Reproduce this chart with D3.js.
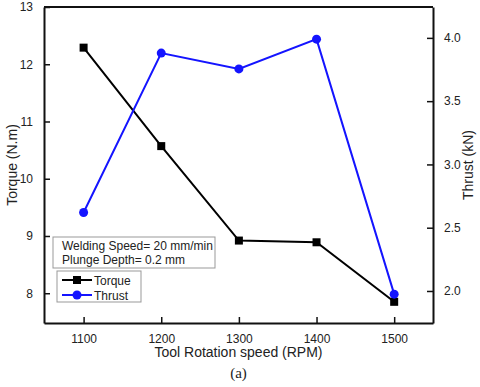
<!DOCTYPE html>
<html>
<head>
<meta charset="utf-8">
<script src="https://cdn.jsdelivr.net/npm/d3@7"></script>
<style>
  body { margin: 0; background: #fff; }
  text { font-family: "Liberation Sans", Arial, sans-serif; fill: #222; }
</style>
</head>
<body>
<div id="chart"></div>
<script>
var svgWidth = 480;
var svgHeight = 387;

var margin = { top: 7, right: 47, bottom: 64, left: 44 };
var width = svgWidth - margin.left - margin.right;
var height = svgHeight - margin.top - margin.bottom;

// data
var rpm = [1100, 1200, 1300, 1400, 1500];
var torque = [12.29, 10.57, 8.92, 8.89, 7.85];
var thrust = [2.62, 3.88, 3.755, 3.99, 1.975];

var torqueTicks = [8, 9, 10, 11, 12, 13];
var thrustTicks = [2.0, 2.5, 3.0, 3.5, 4.0];

var svg = d3.select("#chart")
    .append("svg")
    .attr("width", svgWidth)
    .attr("height", svgHeight);

var chartGroup = svg.append("g")
    .attr("transform", `translate(${margin.left}, ${margin.top})`);

var xScale = d3.scaleLinear().domain([1049, 1550]).range([0, width]);
var yLeft = d3.scaleLinear().domain([7.48, 13]).range([height, 0]);
var yRight = d3.scaleLinear().domain([1.747, 4.244]).range([height, 0]);

// axes, ticks pointing inward
var bottomAxis = d3.axisBottom(xScale).tickValues(rpm).tickSizeInner(-6).tickSizeOuter(0).tickPadding(11).tickFormat(d3.format("d"));
var leftAxis = d3.axisLeft(yLeft).tickValues(torqueTicks).tickSizeInner(-6).tickSizeOuter(0).tickPadding(11).tickFormat(d3.format("d"));
var rightAxis = d3.axisRight(yRight).tickValues(thrustTicks).tickSizeInner(-6).tickSizeOuter(0).tickPadding(11).tickFormat(d3.format(".1f"));

chartGroup.append("g")
    .attr("transform", `translate(0, ${height})`)
    .call(bottomAxis);
chartGroup.append("g").call(leftAxis);
chartGroup.append("g")
    .attr("transform", `translate(${width}, 0)`)
    .call(rightAxis);

chartGroup.selectAll(".domain").attr("stroke", "#111").attr("stroke-width", 2);
chartGroup.selectAll(".tick line").attr("stroke", "#111").attr("stroke-width", 1.5);
chartGroup.selectAll(".tick text").style("font-size", "12px").attr("fill", "#222");

// top frame line
chartGroup.append("line")
    .attr("x1", 0).attr("x2", width)
    .attr("y1", 0).attr("y2", 0)
    .attr("stroke", "#111").attr("stroke-width", 2);

// torque series
var torqueLine = d3.line()
    .x((d, i) => xScale(rpm[i]))
    .y(d => yLeft(d));

chartGroup.append("path")
    .datum(torque)
    .attr("d", torqueLine)
    .attr("fill", "none")
    .attr("stroke", "#000")
    .attr("stroke-width", 2);

chartGroup.selectAll(".torqueMark")
    .data(torque)
    .enter()
    .append("rect")
        .attr("class", "torqueMark")
        .attr("x", (d, i) => xScale(rpm[i]) - 4)
        .attr("y", d => yLeft(d) - 4)
        .attr("width", 8)
        .attr("height", 8)
        .attr("fill", "#000");

// thrust series
var thrustLine = d3.line()
    .x((d, i) => xScale(rpm[i]))
    .y(d => yRight(d));

chartGroup.append("path")
    .datum(thrust)
    .attr("d", thrustLine)
    .attr("fill", "none")
    .attr("stroke", "#1414ff")
    .attr("stroke-width", 2);

chartGroup.selectAll(".thrustMark")
    .data(thrust)
    .enter()
    .append("circle")
        .attr("class", "thrustMark")
        .attr("cx", (d, i) => xScale(rpm[i]))
        .attr("cy", d => yRight(d))
        .attr("r", 4.5)
        .attr("fill", "#1414ff");

// condition text box
var infoBox = chartGroup.append("g").attr("transform", "translate(9, 230)");
infoBox.append("rect")
    .attr("width", 162).attr("height", 31)
    .attr("fill", "#fff").attr("stroke", "#999").attr("stroke-width", 1);
infoBox.append("text").attr("x", 9).attr("y", 13).style("font-size", "12px").text("Welding Speed= 20 mm/min");
infoBox.append("text").attr("x", 9).attr("y", 27).style("font-size", "12px").text("Plunge Depth= 0.2 mm");

// legend
var legend = chartGroup.append("g").attr("transform", "translate(13, 264)");
legend.append("rect")
    .attr("width", 84).attr("height", 31)
    .attr("fill", "#fff").attr("stroke", "#999").attr("stroke-width", 1);

var legendItems = [
    { name: "Torque", color: "#000", shape: "square" },
    { name: "Thrust", color: "#1414ff", shape: "circle" }
];

legendItems.forEach((item, i) => {
    var row = legend.append("g").attr("transform", `translate(0, ${9 + i * 15})`);
    row.append("line")
        .attr("x1", 5).attr("x2", 35)
        .attr("y1", 0).attr("y2", 0)
        .attr("stroke", item.color).attr("stroke-width", 2);
    if (item.shape === "square") {
        row.append("rect").attr("x", 16).attr("y", -4).attr("width", 8).attr("height", 8).attr("fill", item.color);
    } else {
        row.append("circle").attr("cx", 20).attr("cy", 0).attr("r", 4.5).attr("fill", item.color);
    }
    row.append("text").attr("x", 37).attr("y", 4.5).style("font-size", "12px").text(item.name);
});

// axis titles
svg.append("text")
    .attr("transform", `translate(17, ${margin.top + height / 2}) rotate(-90)`)
    .attr("text-anchor", "middle")
    .style("font-size", "14px")
    .text("Torque (N.m)");

svg.append("text")
    .attr("transform", `translate(473, ${margin.top + height / 2}) rotate(-90)`)
    .attr("text-anchor", "middle")
    .style("font-size", "14px")
    .text("Thrust (kN)");

svg.append("text")
    .attr("x", margin.left + width / 2)
    .attr("y", 357)
    .attr("text-anchor", "middle")
    .style("font-size", "14px")
    .text("Tool Rotation speed (RPM)");

svg.append("text")
    .attr("x", margin.left + width / 2)
    .attr("y", 378)
    .attr("text-anchor", "middle")
    .style("font-family", "'Liberation Serif', 'Times New Roman', serif")
    .style("font-size", "15px")
    .text("(a)");
</script>
</body>
</html>
